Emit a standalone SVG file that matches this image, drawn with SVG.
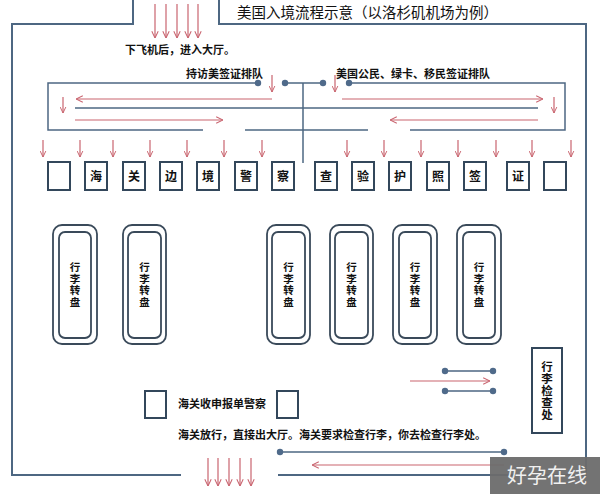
<svg xmlns="http://www.w3.org/2000/svg" width="600" height="494" viewBox="0 0 600 494">
<style>
.wall{fill:none;stroke:#4d6782;stroke-width:2}
.ln{fill:none;stroke:#4d6782;stroke-width:1.5}
.dot{fill:#4f6a8a}
.ra{fill:none;stroke:#c9646f;stroke-width:1.2}
.box{fill:#fff;stroke:#33475b;stroke-width:2}
.car{fill:#fff;stroke:#3a4a5a;stroke-width:1.8}
.t{font-family:"Noto Sans CJK SC","Noto Sans",sans-serif;font-size:11px;font-weight:700;fill:#111}
.bt{font-family:"Noto Sans CJK SC","Noto Sans",sans-serif;font-size:12px;font-weight:700;fill:#111;text-anchor:middle}
.vt{font-family:"Noto Sans CJK SC","Noto Sans",sans-serif;font-size:10.5px;font-weight:700;fill:#111;text-anchor:middle;writing-mode:vertical-rl;letter-spacing:1px}
.title{font-family:"Noto Sans CJK SC","Noto Sans",sans-serif;font-size:14.5px;fill:#111}
</style>
<defs>
<marker id="ah" viewBox="0 0 10 10" refX="9.5" refY="5" markerWidth="8" markerHeight="8" markerUnits="userSpaceOnUse" orient="auto"><path d="M1,1 L9.5,5 L1,9" fill="none" stroke="#c9646f" stroke-width="1.3"/></marker>
<marker id="ahs" viewBox="0 0 10 10" refX="9.5" refY="5" markerWidth="7" markerHeight="7" markerUnits="userSpaceOnUse" orient="auto"><path d="M1,1 L9.5,5 L1,9" fill="none" stroke="#c9646f" stroke-width="1.4"/></marker>
</defs>
<rect width="600" height="494" fill="#fff"/>

<g id="walls">
<path class="wall" d="M133,0 V24 H12 V475 H181"/>
<path class="wall" d="M219,0 V24 H586 V475 H278"/>
</g>

<text class="title" x="237" y="18">美国入境流程示意（以洛杉矶机场为例）</text>

<g id="queue">
<path class="ln" d="M258,83 H48 V130 H203"/>
<path class="ln" d="M245,130 H368"/>
<path class="ln" d="M410,130 H565 V83 H349"/>
<path class="ln" d="M285,83 H323"/>
<path class="ln" d="M303,83 V163"/>
<path class="ln" d="M75,108 H538"/>
<circle class="dot" cx="258" cy="83" r="3.2"/>
<circle class="dot" cx="285" cy="83" r="3.2"/>
<circle class="dot" cx="323" cy="83" r="3.2"/>
<circle class="dot" cx="349" cy="83" r="3.2"/>
</g>

<g id="labels">
<text class="t" x="125" y="54">下飞机后，进入大厅。</text>
<text class="t" x="186" y="78">持访美签证排队</text>
<text class="t" x="336" y="78">美国公民、绿卡、移民签证排队</text>
<text class="t" x="178" y="408">海关收申报单警察</text>
<text class="t" x="178" y="439">海关放行，直接出大厅。海关要求检查行李，你去检查行李处。</text>
</g>

<g id="connectors">
<line class="ra" x1="155" y1="4" x2="155" y2="38" marker-end="url(#ah)"/>
<line class="ra" x1="166" y1="4" x2="166" y2="38" marker-end="url(#ah)"/>
<line class="ra" x1="177" y1="4" x2="177" y2="38" marker-end="url(#ah)"/>
<line class="ra" x1="188" y1="4" x2="188" y2="38" marker-end="url(#ah)"/>
<line class="ra" x1="198" y1="4" x2="198" y2="38" marker-end="url(#ah)"/>

<line class="ra" x1="272" y1="75" x2="272" y2="92" marker-end="url(#ahs)"/>
<line class="ra" x1="335" y1="75" x2="335" y2="92" marker-end="url(#ahs)"/>
<line class="ra" x1="272" y1="99" x2="76" y2="99" marker-end="url(#ah)"/>
<line class="ra" x1="63" y1="97" x2="63" y2="113" marker-end="url(#ahs)"/>
<line class="ra" x1="75" y1="120" x2="223" y2="120" marker-end="url(#ah)"/>
<line class="ra" x1="342" y1="99" x2="543" y2="99" marker-end="url(#ah)"/>
<line class="ra" x1="554" y1="97" x2="554" y2="113" marker-end="url(#ahs)"/>
<line class="ra" x1="538" y1="120" x2="390" y2="120" marker-end="url(#ah)"/>

<g id="booth-arrows">
<line class="ra" x1="43" y1="140" x2="43" y2="157" marker-end="url(#ahs)"/>
<line class="ra" x1="80" y1="140" x2="80" y2="157" marker-end="url(#ahs)"/>
<line class="ra" x1="113" y1="140" x2="113" y2="157" marker-end="url(#ahs)"/>
<line class="ra" x1="150" y1="140" x2="150" y2="157" marker-end="url(#ahs)"/>
<line class="ra" x1="187" y1="140" x2="187" y2="157" marker-end="url(#ahs)"/>
<line class="ra" x1="224" y1="140" x2="224" y2="157" marker-end="url(#ahs)"/>
<line class="ra" x1="262" y1="140" x2="262" y2="157" marker-end="url(#ahs)"/>
<line class="ra" x1="347" y1="140" x2="347" y2="157" marker-end="url(#ahs)"/>
<line class="ra" x1="384" y1="140" x2="384" y2="157" marker-end="url(#ahs)"/>
<line class="ra" x1="421" y1="140" x2="421" y2="157" marker-end="url(#ahs)"/>
<line class="ra" x1="458" y1="140" x2="458" y2="157" marker-end="url(#ahs)"/>
<line class="ra" x1="496" y1="140" x2="496" y2="157" marker-end="url(#ahs)"/>
<line class="ra" x1="532" y1="140" x2="532" y2="157" marker-end="url(#ahs)"/>
<line class="ra" x1="571" y1="140" x2="571" y2="157" marker-end="url(#ahs)"/>
</g>

<line class="ra" x1="410" y1="381" x2="490" y2="381" marker-end="url(#ah)"/>
<path class="ln" d="M445,371 H493 M445,391 H493"/>
<circle class="dot" cx="445" cy="371" r="3.2"/>
<circle class="dot" cx="493" cy="371" r="3.2"/>
<circle class="dot" cx="445" cy="391" r="3.2"/>
<circle class="dot" cx="493" cy="391" r="3.2"/>

<path class="ln" d="M280,452 H504"/>
<circle class="dot" cx="280" cy="452" r="3.2"/>
<circle class="dot" cx="504" cy="452" r="3.2"/>
<line class="ra" x1="504" y1="465" x2="312" y2="465" marker-end="url(#ah)"/>

<line class="ra" x1="208" y1="458" x2="208" y2="486" marker-end="url(#ah)"/>
<line class="ra" x1="218" y1="458" x2="218" y2="486" marker-end="url(#ah)"/>
<line class="ra" x1="229" y1="458" x2="229" y2="486" marker-end="url(#ah)"/>
<line class="ra" x1="240" y1="458" x2="240" y2="486" marker-end="url(#ah)"/>
<line class="ra" x1="251" y1="458" x2="251" y2="486" marker-end="url(#ah)"/>
</g>

<g id="booths">
<g id="b0"><rect class="box" x="48" y="162" width="22" height="28"/></g>
<g id="b1"><rect class="box" x="85" y="162" width="22" height="28"/><text class="bt" x="96" y="180.5">海</text></g>
<g id="b2"><rect class="box" x="123" y="162" width="22" height="28"/><text class="bt" x="134" y="180.5">关</text></g>
<g id="b3"><rect class="box" x="160" y="162" width="22" height="28"/><text class="bt" x="171" y="180.5">边</text></g>
<g id="b4"><rect class="box" x="197" y="162" width="22" height="28"/><text class="bt" x="208" y="180.5">境</text></g>
<g id="b5"><rect class="box" x="235" y="162" width="22" height="28"/><text class="bt" x="246" y="180.5">警</text></g>
<g id="b6"><rect class="box" x="272" y="162" width="22" height="28"/><text class="bt" x="283" y="180.5">察</text></g>
<g id="b7"><rect class="box" x="315" y="162" width="22" height="28"/><text class="bt" x="326" y="180.5">查</text></g>
<g id="b8"><rect class="box" x="352" y="162" width="22" height="28"/><text class="bt" x="363" y="180.5">验</text></g>
<g id="b9"><rect class="box" x="389" y="162" width="22" height="28"/><text class="bt" x="400" y="180.5">护</text></g>
<g id="b10"><rect class="box" x="427" y="162" width="22" height="28"/><text class="bt" x="438" y="180.5">照</text></g>
<g id="b11"><rect class="box" x="464" y="162" width="22" height="28"/><text class="bt" x="475" y="180.5">签</text></g>
<g id="b12"><rect class="box" x="507" y="162" width="22" height="28"/><text class="bt" x="518" y="180.5">证</text></g>
<g id="b13"><rect class="box" x="544" y="162" width="22" height="28"/></g>
</g>

<g id="carousels">
<g id="c1"><rect class="car" x="53" y="225" width="44" height="119" rx="9"/><rect class="car" x="59" y="232" width="32" height="106" rx="6"/>
<text class="vt" x="75" y="285">行李转盘</text></g>
<g id="c2"><rect class="car" x="123" y="225" width="43" height="119" rx="9"/><rect class="car" x="128" y="232" width="33" height="106" rx="6"/>
<text class="vt" x="144.5" y="285">行李转盘</text></g>
<g id="c3"><rect class="car" x="267" y="225" width="43" height="119" rx="9"/><rect class="car" x="272" y="232" width="33" height="106" rx="6"/>
<text class="vt" x="288.5" y="285">行李转盘</text></g>
<g id="c4"><rect class="car" x="330" y="225" width="43" height="119" rx="9"/><rect class="car" x="335" y="232" width="33" height="106" rx="6"/>
<text class="vt" x="351.5" y="285">行李转盘</text></g>
<g id="c5"><rect class="car" x="393" y="225" width="44" height="119" rx="9"/><rect class="car" x="399" y="232" width="32" height="106" rx="6"/>
<text class="vt" x="415" y="285">行李转盘</text></g>
<g id="c6"><rect class="car" x="457" y="225" width="44" height="119" rx="9"/><rect class="car" x="463" y="232" width="32" height="106" rx="6"/>
<text class="vt" x="479" y="285">行李转盘</text></g>
</g>

<g id="customs">
<rect class="box" x="145" y="391" width="21" height="27"/>
<rect class="box" x="277" y="391" width="21" height="27"/>
</g>

<g id="inspection">
<rect class="box" x="532" y="348" width="30" height="85"/>
<text class="vt" x="547" y="391" style="font-size:11.5px;letter-spacing:0.5px">行李检查处</text>
</g>

<g id="watermark">
<rect x="490" y="457" width="110" height="37" fill="#6b6b6b" fill-opacity="0.95"/>
<text x="547" y="483" text-anchor="middle" style="font-family:'Noto Sans CJK SC','Noto Sans',sans-serif;font-size:20px;fill:#f0f0f0">好孕在线</text>
</g>
</svg>
